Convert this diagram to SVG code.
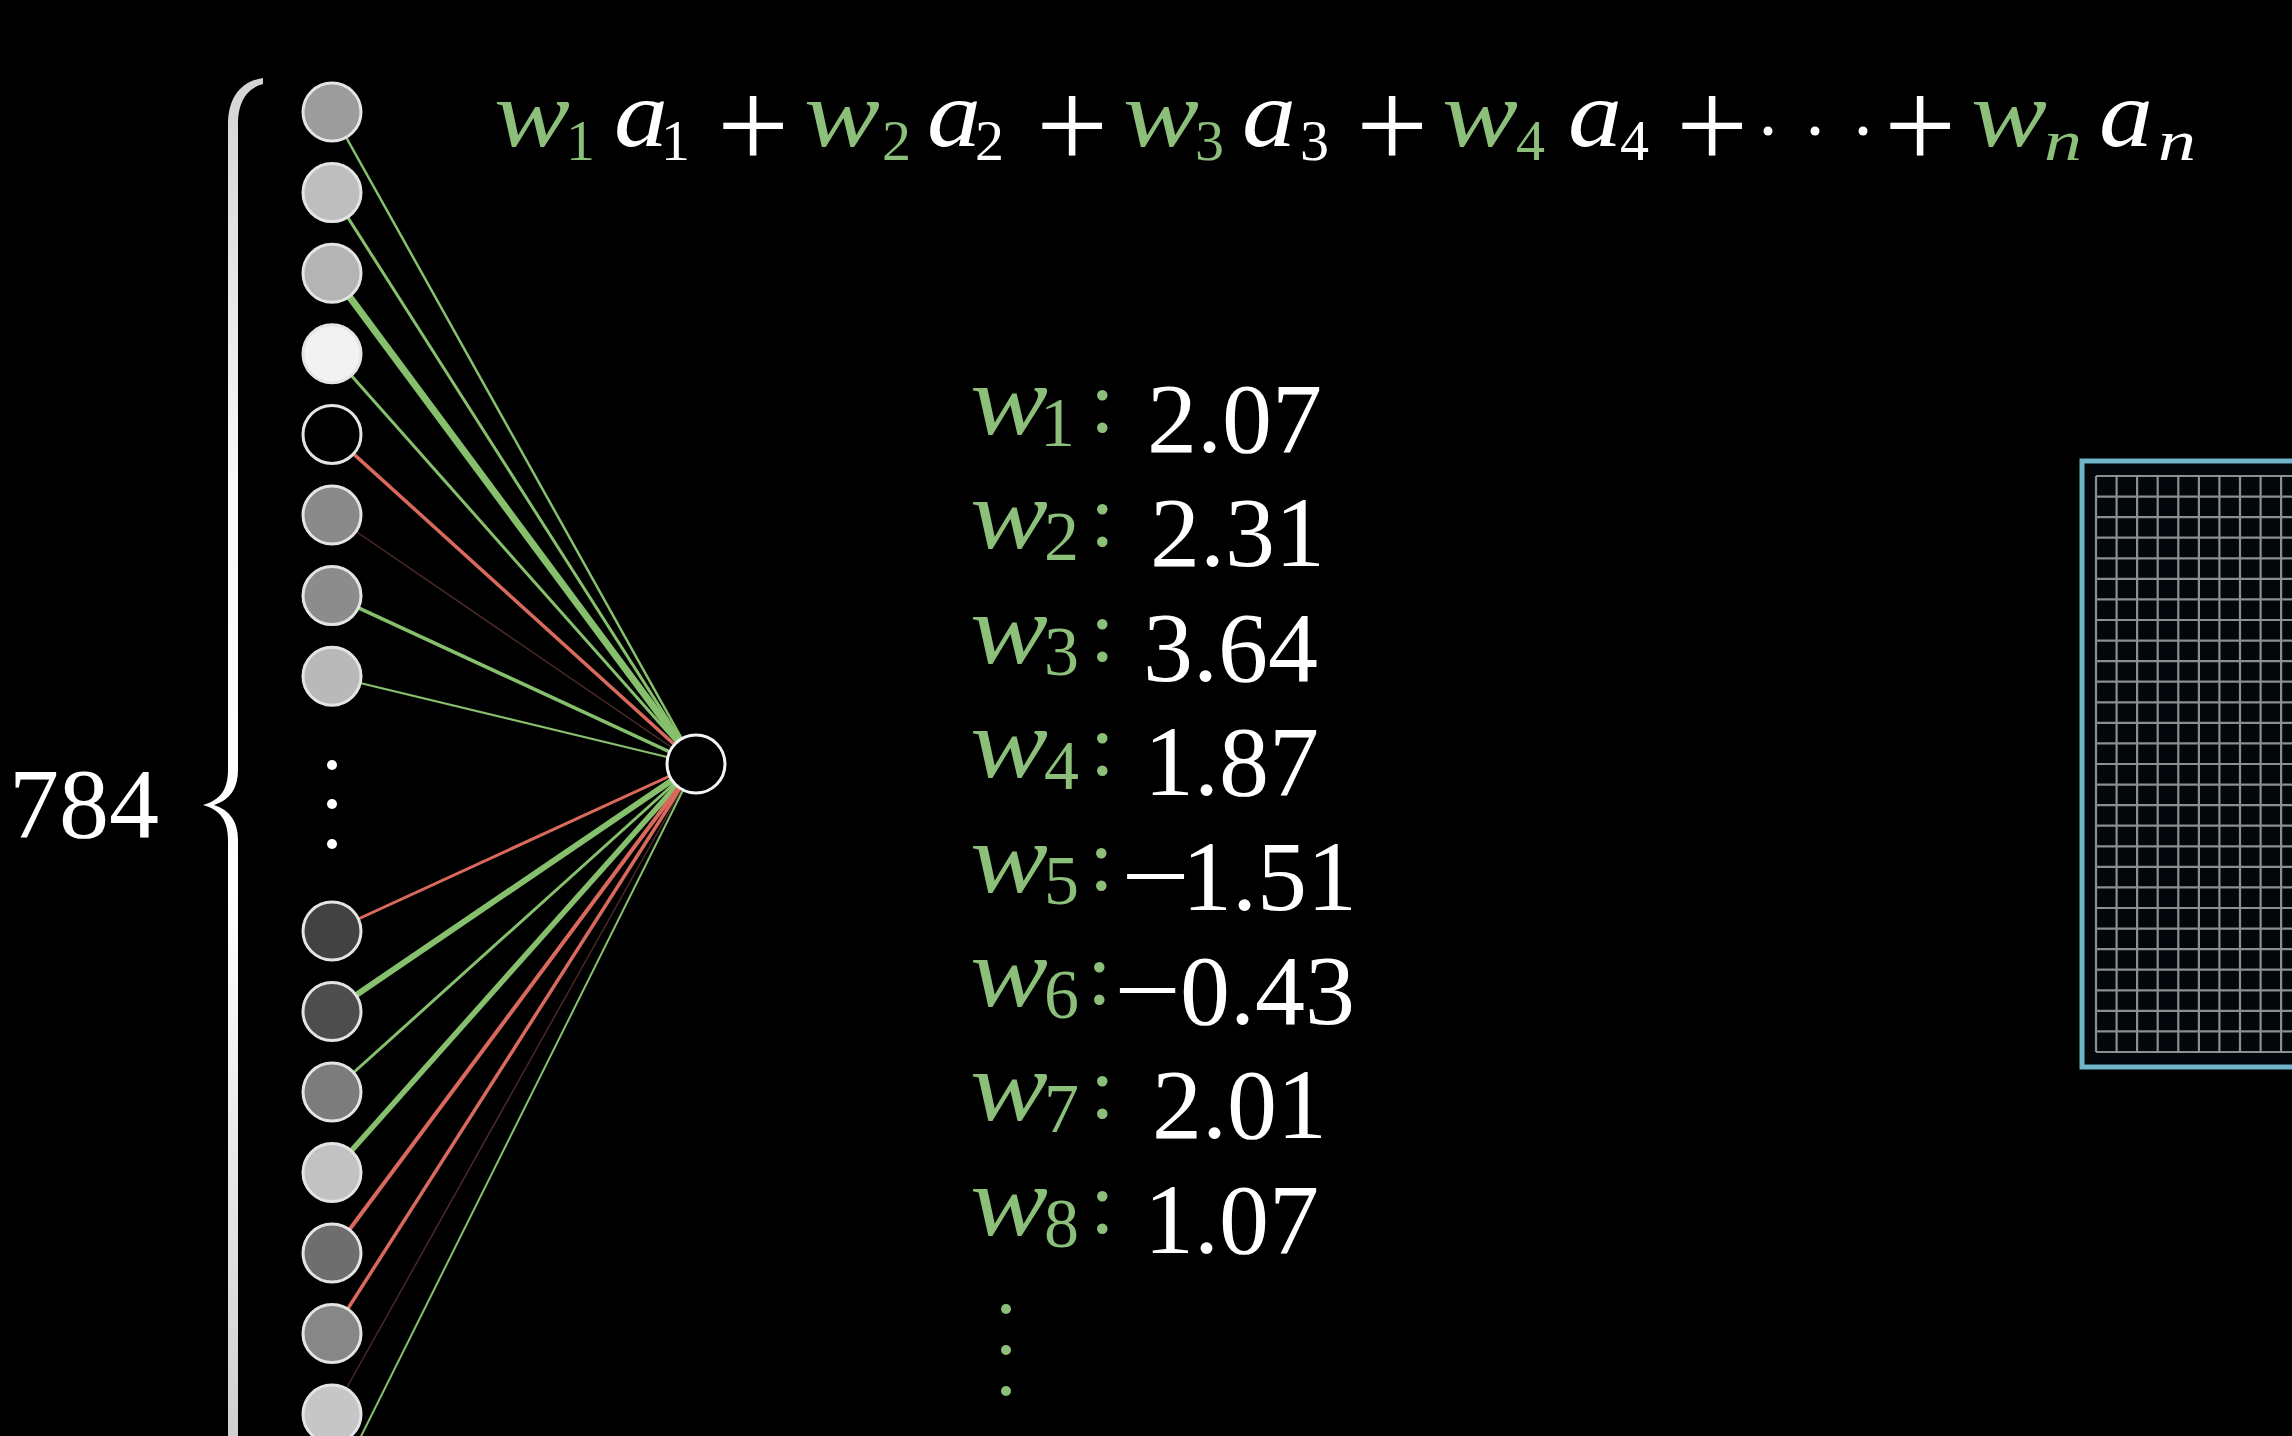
<svg xmlns="http://www.w3.org/2000/svg" width="2292" height="1436" viewBox="0 0 2292 1436">
<defs>
<style>
.in{stroke:#e4e4e4;stroke-width:3}
.g{stroke:#86c06c;fill:none;stroke-linecap:round}
.r{stroke:#d9695c;fill:none;stroke-linecap:round}
.f{stroke:#4a2a25;fill:none}
.mi{font-family:"Liberation Serif",serif;font-style:italic;font-size:96px}
.sub{font-family:"Liberation Serif",serif;font-size:58px}
.pl{font-family:"Liberation Serif",serif;font-size:128px;fill:#fff}
.num{font-family:"Liberation Serif",serif;font-size:100px;fill:#fff}
.wl{font-family:"Liberation Serif",serif;font-style:italic;font-size:100px;fill:#8cbf7a}
.ws{font-family:"Liberation Serif",serif;font-size:70px;fill:#8cbf7a}
.col{font-family:"Liberation Serif",serif;font-size:89px;fill:#8cbf7a}
.gr{fill:#8cbf7a}
.wh{fill:#fff}
</style>
<linearGradient id="braceGrad" gradientUnits="userSpaceOnUse" x1="0" y1="78" x2="0" y2="1436">
<stop offset="0" stop-color="#d4d4d4"/>
<stop offset="0.3" stop-color="#f8f8f8"/>
<stop offset="0.6" stop-color="#ffffff"/>
<stop offset="1" stop-color="#cfcfcf"/>
</linearGradient>
</defs>
<rect width="2292" height="1436" fill="#000"/>

<!-- brace and count -->
<g id="brace">
<path d="M263 78 C243 81 228 95 228 125 L228 770 C228 790 220 800 203 805 C220 810 228 820 228 840 L228 1440 L238 1440 L238 840 C238 822 230 810 214 805 C230 800 238 788 238 770 L238 125 C238 100 248 88 263 84 Z" fill="url(#braceGrad)"/>
</g>
<g id="count">
<text x="9" y="837" class="num">784</text>
</g>

<!-- connectors -->
<g id="connectors">
<line class="g" x1="332" y1="112" x2="696" y2="764" stroke-width="2.5"/>
<line class="g" x1="332" y1="192.6" x2="696" y2="764" stroke-width="3"/>
<line class="g" x1="332" y1="273.2" x2="696" y2="764" stroke-width="7"/>
<line class="g" x1="332" y1="353.8" x2="696" y2="764" stroke-width="3"/>
<line class="r" x1="332" y1="434.4" x2="696" y2="764" stroke-width="3.5"/>
<line class="f" x1="332" y1="515" x2="696" y2="764" stroke-width="1.5"/>
<line class="g" x1="332" y1="595.6" x2="696" y2="764" stroke-width="3.5"/>
<line class="g" x1="332" y1="676.2" x2="696" y2="764" stroke-width="2"/>
<line class="r" x1="332" y1="931" x2="696" y2="764" stroke-width="3"/>
<line class="g" x1="332" y1="1011.5" x2="696" y2="764" stroke-width="6"/>
<line class="g" x1="332" y1="1092" x2="696" y2="764" stroke-width="3"/>
<line class="g" x1="332" y1="1172.5" x2="696" y2="764" stroke-width="5.5"/>
<line class="r" x1="332" y1="1253" x2="696" y2="764" stroke-width="4"/>
<line class="r" x1="332" y1="1333.5" x2="696" y2="764" stroke-width="3.5"/>
<line class="f" x1="332" y1="1414" x2="696" y2="764" stroke-width="1.5" stroke="#3a2a22"/>
<line class="g" x1="332" y1="1494.5" x2="696" y2="764" stroke-width="2"/>
</g>

<!-- input neurons -->
<g id="n1"><circle class="in" cx="332" cy="112" r="29" fill="#9c9c9c"/></g>
<g id="n2"><circle class="in" cx="332" cy="192.6" r="29" fill="#bebebe"/></g>
<g id="n3"><circle class="in" cx="332" cy="273.2" r="29" fill="#b4b4b4"/></g>
<g id="n4"><circle class="in" cx="332" cy="353.8" r="29" fill="#f2f2f2"/></g>
<g id="n5"><circle class="in" cx="332" cy="434.4" r="29" fill="#000"/></g>
<g id="n6"><circle class="in" cx="332" cy="515" r="29" fill="#8a8a8a"/></g>
<g id="n7"><circle class="in" cx="332" cy="595.6" r="29" fill="#8c8c8c"/></g>
<g id="n8"><circle class="in" cx="332" cy="676.2" r="29" fill="#b9b9b9"/></g>
<g id="vdots-neurons">
<circle cx="332" cy="765" r="5" fill="#fff"/>
<circle cx="332" cy="804" r="5" fill="#fff"/>
<circle cx="332" cy="844" r="5" fill="#fff"/>
</g>
<g id="n9"><circle class="in" cx="332" cy="931" r="29" fill="#424242"/></g>
<g id="n10"><circle class="in" cx="332" cy="1011.5" r="29" fill="#4d4d4d"/></g>
<g id="n11"><circle class="in" cx="332" cy="1092" r="29" fill="#7c7c7c"/></g>
<g id="n12"><circle class="in" cx="332" cy="1172.5" r="29" fill="#c2c2c2"/></g>
<g id="n13"><circle class="in" cx="332" cy="1253" r="29" fill="#6e6e6e"/></g>
<g id="n14"><circle class="in" cx="332" cy="1333.5" r="29" fill="#878787"/></g>
<g id="n15"><circle class="in" cx="332" cy="1414" r="29" fill="#c6c6c6"/></g>

<!-- output neuron -->
<g id="output"><circle cx="696" cy="764" r="29" fill="#000" stroke="#f4f4f4" stroke-width="3"/></g>

<!-- weighted sum equation -->
<g id="equation">
<text x="494" y="146" class="mi gr" textLength="76" lengthAdjust="spacingAndGlyphs">w</text>
<text x="566" y="160" class="sub gr">1</text>
<text x="614" y="146" class="mi wh" textLength="54" lengthAdjust="spacingAndGlyphs">a</text>
<text x="661" y="160" class="sub wh">1</text>
<text x="717" y="168" class="pl">+</text>
<text x="804" y="146" class="mi gr" textLength="76" lengthAdjust="spacingAndGlyphs">w</text>
<text x="882" y="160" class="sub gr">2</text>
<text x="927" y="146" class="mi wh" textLength="54" lengthAdjust="spacingAndGlyphs">a</text>
<text x="975" y="160" class="sub wh">2</text>
<text x="1036" y="168" class="pl">+</text>
<text x="1123" y="146" class="mi gr" textLength="76" lengthAdjust="spacingAndGlyphs">w</text>
<text x="1195" y="160" class="sub gr">3</text>
<text x="1242" y="146" class="mi wh" textLength="54" lengthAdjust="spacingAndGlyphs">a</text>
<text x="1300" y="160" class="sub wh">3</text>
<text x="1356" y="168" class="pl">+</text>
<text x="1442" y="146" class="mi gr" textLength="76" lengthAdjust="spacingAndGlyphs">w</text>
<text x="1516" y="160" class="sub gr">4</text>
<text x="1568" y="146" class="mi wh" textLength="54" lengthAdjust="spacingAndGlyphs">a</text>
<text x="1620" y="160" class="sub wh">4</text>
<text x="1676" y="168" class="pl">+</text>
<circle cx="1768" cy="131" r="4.5" fill="#fff"/>
<circle cx="1815" cy="131" r="4.5" fill="#fff"/>
<circle cx="1863" cy="131" r="4.5" fill="#fff"/>
<text x="1884" y="168" class="pl">+</text>
<text x="1971" y="146" class="mi gr" textLength="76" lengthAdjust="spacingAndGlyphs">w</text>
<text x="2044" y="160" class="sub gr" font-style="italic" textLength="38" lengthAdjust="spacingAndGlyphs">n</text>
<text x="2099" y="146" class="mi wh" textLength="54" lengthAdjust="spacingAndGlyphs">a</text>
<text x="2158" y="160" class="sub wh" font-style="italic" textLength="38" lengthAdjust="spacingAndGlyphs">n</text>
</g>

<!-- weight list -->
<g id="weights">
<g id="w1">
<text x="970" y="434" class="wl" textLength="78" lengthAdjust="spacingAndGlyphs">w</text>
<text x="1040" y="446" class="ws">1</text>
<text x="1090" y="432" class="col">:</text>
<text x="1147" y="452" class="num">2.07</text>
</g>
<g id="w2">
<text x="970" y="548.4" class="wl" textLength="78" lengthAdjust="spacingAndGlyphs">w</text>
<text x="1044" y="560.4" class="ws">2</text>
<text x="1090" y="546.4" class="col">:</text>
<text x="1150" y="566.4" class="num">2.31</text>
</g>
<g id="w3">
<text x="970" y="662.8" class="wl" textLength="78" lengthAdjust="spacingAndGlyphs">w</text>
<text x="1044" y="674.8" class="ws">3</text>
<text x="1090" y="660.8" class="col">:</text>
<text x="1143" y="680.8" class="num">3.64</text>
</g>
<g id="w4">
<text x="970" y="777.2" class="wl" textLength="78" lengthAdjust="spacingAndGlyphs">w</text>
<text x="1044" y="789.2" class="ws">4</text>
<text x="1090" y="775.2" class="col">:</text>
<text x="1144" y="795.2" class="num">1.87</text>
</g>
<g id="w5">
<text x="970" y="891.6" class="wl" textLength="78" lengthAdjust="spacingAndGlyphs">w</text>
<text x="1044" y="903.6" class="ws">5</text>
<text x="1089" y="889.6" class="col">:</text>
<text x="1121" y="909.6" class="num" textLength="69" lengthAdjust="spacingAndGlyphs">−</text>
<text x="1182" y="909.6" class="num">1.51</text>
</g>
<g id="w6">
<text x="970" y="1006" class="wl" textLength="78" lengthAdjust="spacingAndGlyphs">w</text>
<text x="1044" y="1018" class="ws">6</text>
<text x="1087" y="1004" class="col">:</text>
<text x="1114" y="1024" class="num" textLength="67" lengthAdjust="spacingAndGlyphs">−</text>
<text x="1180" y="1024" class="num">0.43</text>
</g>
<g id="w7">
<text x="970" y="1120.4" class="wl" textLength="78" lengthAdjust="spacingAndGlyphs">w</text>
<text x="1044" y="1132.4" class="ws">7</text>
<text x="1090" y="1118.4" class="col">:</text>
<text x="1152" y="1138.4" class="num">2.01</text>
</g>
<g id="w8">
<text x="970" y="1234.8" class="wl" textLength="78" lengthAdjust="spacingAndGlyphs">w</text>
<text x="1044" y="1246.8" class="ws">8</text>
<text x="1090" y="1232.8" class="col">:</text>
<text x="1144" y="1252.8" class="num">1.07</text>
</g>
<g id="w-vdots">
<circle cx="1006" cy="1309" r="5" fill="#8cbf7a"/>
<circle cx="1006" cy="1350" r="5" fill="#8cbf7a"/>
<circle cx="1006" cy="1391" r="5" fill="#8cbf7a"/>
</g>
</g>

<!-- pixel grid -->
<g id="pixel-grid">
<rect x="2082" y="461" width="700" height="606" fill="#03070b" stroke="#6fb4ca" stroke-width="5"/>
<path stroke="#8e8e8e" stroke-width="2.2" fill="none" d="M2096 476V1052 M2116.6 476V1052 M2137.1 476V1052 M2157.7 476V1052 M2178.3 476V1052 M2198.9 476V1052 M2219.4 476V1052 M2240 476V1052 M2260.6 476V1052 M2281.1 476V1052
M2096 476H2292 M2096 496.6H2292 M2096 517.1H2292 M2096 537.7H2292 M2096 558.3H2292 M2096 578.9H2292 M2096 599.4H2292 M2096 620H2292 M2096 640.6H2292 M2096 661.1H2292 M2096 681.7H2292 M2096 702.3H2292 M2096 722.9H2292 M2096 743.4H2292 M2096 764H2292 M2096 784.6H2292 M2096 805.1H2292 M2096 825.7H2292 M2096 846.3H2292 M2096 866.9H2292 M2096 887.4H2292 M2096 908H2292 M2096 928.6H2292 M2096 949.1H2292 M2096 969.7H2292 M2096 990.3H2292 M2096 1010.9H2292 M2096 1031.4H2292 M2096 1052H2292"/>
</g>
</svg>
